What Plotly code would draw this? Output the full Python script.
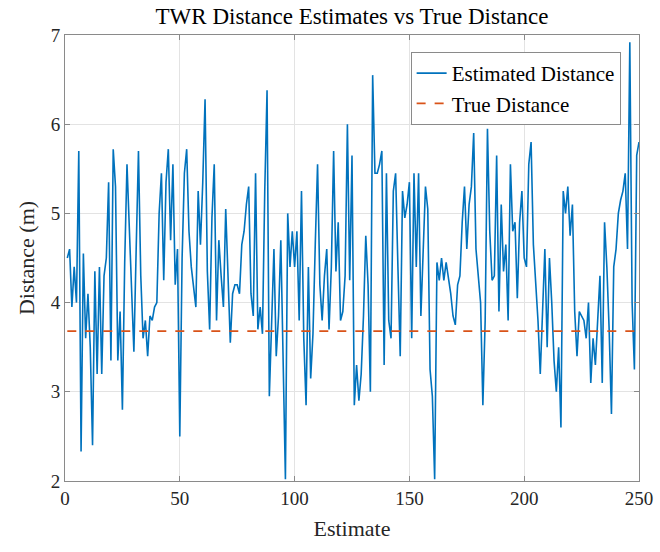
import plotly.graph_objects as go

estimated = [
    4.5, 4.6, 3.95, 4.4, 4.0, 5.7, 2.33, 4.55, 3.6, 4.1, 3.5, 2.4, 4.35, 3.2, 4.4, 3.2, 4.3, 4.5, 5.35, 3.35, 5.72, 5.3, 3.35, 3.9, 2.8,
    4.45, 5.55, 4.8, 4.1, 3.45, 4.6, 5.7, 4.3, 3.6, 3.8, 3.4, 3.85, 3.8, 3.95, 4.0, 5.0, 5.45, 4.25, 5.35, 5.72, 4.7, 5.55, 4.2, 4.6, 2.5,
    4.5, 5.45, 5.72, 4.8, 4.4, 4.2, 3.95, 5.25, 4.65, 5.35, 6.28, 4.35, 3.7, 4.95, 5.55, 3.8, 4.7, 4.3, 3.95, 5.05, 4.3, 3.55, 4.1, 4.2, 4.2,
    4.1, 4.65, 4.8, 5.1, 5.3, 4.1, 3.85, 5.45, 3.7, 3.95, 3.65, 5.25, 6.38, 2.95, 3.9, 4.6, 3.4, 3.85, 4.7, 3.1, 2.02, 5.0, 4.4, 4.8, 4.4,
    4.8, 3.8, 5.25, 3.6, 2.85, 4.4, 3.15, 3.65, 4.65, 5.55, 4.2, 3.8, 4.3, 4.6, 3.7, 4.4, 5.7, 4.35, 4.9, 3.8, 3.9, 4.3, 6.0, 4.25, 5.65,
    2.85, 3.3, 2.9, 3.2, 3.85, 4.75, 4.2, 3.0, 6.55, 5.45, 5.45, 5.55, 5.7, 3.3, 5.45, 3.8, 3.6, 5.25, 5.45, 4.4, 3.4, 5.25, 4.95, 5.1, 5.35,
    3.6, 5.45, 4.4, 5.45, 3.85, 4.5, 5.3, 5.05, 3.25, 2.95, 2.02, 4.45, 4.25, 4.5, 4.25, 4.45, 4.3, 4.1, 3.85, 3.75, 4.2, 4.3, 4.9, 5.3, 4.6,
    5.1, 5.3, 5.9, 4.6, 4.3, 4.0, 2.85, 3.8, 5.95, 4.8, 4.25, 4.3, 5.65, 3.9, 5.1, 4.35, 4.65, 3.8, 5.55, 4.8, 4.9, 4.05, 4.9, 5.25, 4.5,
    4.4, 5.55, 5.8, 4.65, 4.25, 3.8, 3.2, 4.0, 4.6, 3.5, 4.5, 4.0, 3.35, 3.0, 3.5, 2.6, 5.25, 5.0, 5.3, 4.75, 5.1, 3.9, 3.4, 3.9, 3.85, 3.8,
    3.6, 4.0, 3.1, 3.6, 3.3, 3.75, 4.3, 3.1, 4.9, 4.4, 3.7, 2.75, 4.4, 4.6, 5.0, 5.15, 5.25, 5.45, 4.6, 6.92, 4.0, 3.25, 5.65, 5.8,
]
estimate_index = list(range(1, len(estimated) + 1))
true_distance = 3.68
true_series = [true_distance] * len(estimate_index)

x_ticks = [0, 50, 100, 150, 200, 250]
y_ticks = [2, 3, 4, 5, 6, 7]

FONT = "Liberation Serif, Times New Roman, serif"

fig = go.Figure()
fig.add_trace(go.Scatter(
    x=estimate_index, y=estimated, mode="lines", name="Estimated Distance",
    line=dict(color="#0072BD", width=1.6),
))
fig.add_trace(go.Scatter(
    x=estimate_index, y=true_series, mode="lines", name="True Distance",
    line=dict(color="#D95319", width=1.6, dash="dash"),
))

axis_common = dict(
    showline=True, linecolor="#8a8a8a", linewidth=1, mirror="ticks",
    ticks="inside", ticklen=5, tickcolor="#8a8a8a",
    showgrid=True, gridcolor="#e3e3e3", gridwidth=1, zeroline=False,
    tickfont=dict(family=FONT, size=19, color="#262626"),
    automargin=False,
)

fig.update_layout(
    width=660, height=552,
    margin=dict(l=65, r=21, t=35, b=71),
    paper_bgcolor="white", plot_bgcolor="white",
    title=dict(text="TWR Distance Estimates vs True Distance", x=0.5, xref="paper",
               y=1 - 16 / 552, yref="container", yanchor="middle",
               font=dict(family=FONT, size=23, color="#000000")),
    xaxis=dict(range=[0, 250], tickvals=x_ticks,
               title=dict(text="Estimate", font=dict(family=FONT, size=22, color="#262626"), standoff=12),
               **axis_common),
    yaxis=dict(range=[2, 7], tickvals=y_ticks,
               title=dict(text="Distance (m)", font=dict(family=FONT, size=22, color="#262626"), standoff=10),
               **axis_common),
    legend=dict(x=0.968, y=0.962, xanchor="right", yanchor="top",
                bgcolor="white", bordercolor="#8a8a8a", borderwidth=1,
                font=dict(family=FONT, size=21, color="#000000"),
                tracegroupgap=0),
    showlegend=True,
)

fig.write_html("out.html", config={"displayModeBar": False},
               post_script="document.body.style.margin='0px';")
